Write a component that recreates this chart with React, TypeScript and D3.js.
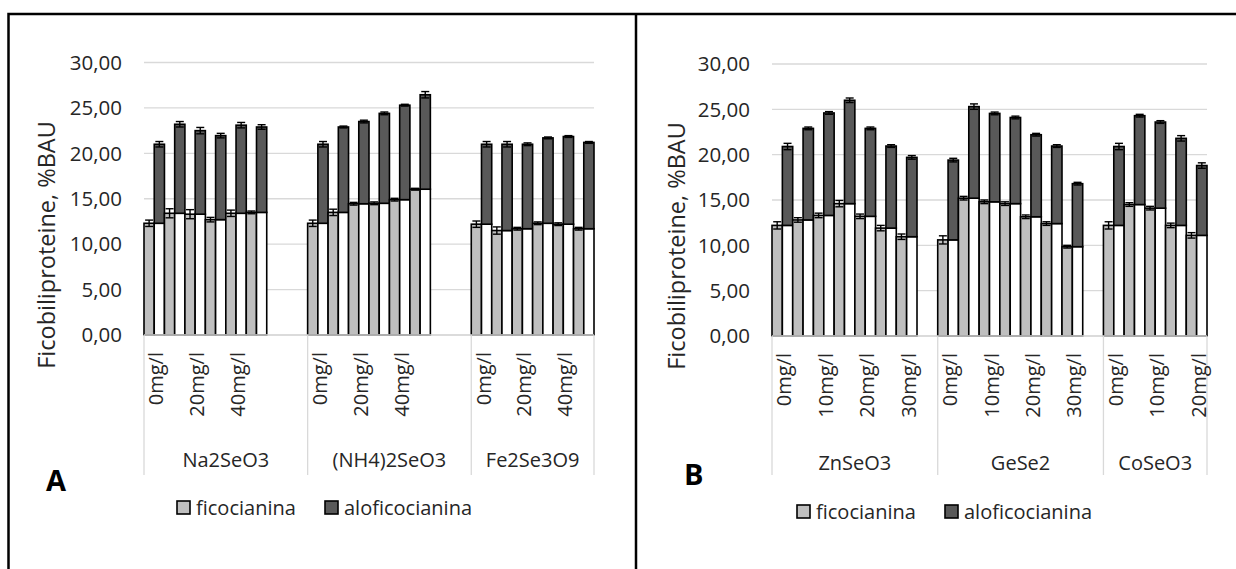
import * as d3 from 'd3';

// panel A
const groupsA = ['Na2SeO3', '(NH4)2SeO3', 'Fe2Se3O9'];
const concA = ['0mg/l', '10mg/l', '20mg/l', '30mg/l', '40mg/l', '50mg/l'];
const ficoA = [
  [12.3, 13.4, 13.3, 12.7, 13.4, 13.5],
  [12.3, 13.5, 14.45, 14.5, 14.9, 16.05],
  [12.2, 11.5, 11.7, 12.3, 12.2, 11.7],
];
const aloA = [
  [8.7, 9.8, 9.2, 9.25, 9.7, 9.4],
  [8.7, 9.4, 9.05, 9.9, 10.4, 10.4],
  [8.8, 9.5, 9.3, 9.4, 9.65, 9.5],
];
const ficoErrA = [
  [0.35, 0.5, 0.5, 0.25, 0.35, 0.15],
  [0.35, 0.35, 0.15, 0.15, 0.15, 0.1],
  [0.35, 0.4, 0.15, 0.15, 0.15, 0.15],
];
const aloErrA = [
  [0.3, 0.3, 0.35, 0.25, 0.3, 0.25],
  [0.3, 0.1, 0.15, 0.15, 0.1, 0.35],
  [0.3, 0.3, 0.15, 0.1, 0.1, 0.1],
];

// panel B
const groupsB = ['ZnSeO3', 'GeSe2', 'CoSeO3'];
const concB = ['0mg/l', '5mg/l', '10mg/l', '15mg/l', '20mg/l', '25mg/l', '30mg/l'];
const ficoB = [
  [12.2, 12.8, 13.3, 14.6, 13.2, 11.9, 10.95],
  [10.6, 15.2, 14.8, 14.6, 13.15, 12.4, 9.85],
  [12.2, 14.5, 14.1, 12.2, 11.1],
];
const aloB = [
  [8.7, 10.1, 11.3, 11.4, 9.7, 9.05, 8.75],
  [8.8, 10.1, 9.75, 9.5, 9.05, 8.55, 6.95],
  [8.7, 9.8, 9.5, 9.6, 7.7],
];
const ficoErrB = [
  [0.4, 0.25, 0.25, 0.35, 0.25, 0.3, 0.3],
  [0.45, 0.2, 0.2, 0.2, 0.2, 0.2, 0.15],
  [0.4, 0.2, 0.2, 0.25, 0.3],
];
const aloErrB = [
  [0.35, 0.15, 0.15, 0.25, 0.15, 0.15, 0.2],
  [0.2, 0.3, 0.15, 0.15, 0.15, 0.15, 0.15],
  [0.35, 0.15, 0.15, 0.3, 0.3],
];

const yTicks = [0, 5, 10, 15, 20, 25, 30];
const seriesNames = ['ficocianina', 'aloficocianina'];

const FONT = "'Open Sans', 'Noto Sans', sans-serif";
const LIGHT = '#bfbfbf';
const DARK = '#595959';
const GRID = '#d9d9d9';

interface PanelProps {
  groups: string[];
  conc: string[];
  fico: number[][];
  alo: number[][];
  ficoErr: number[][];
  aloErr: number[][];
  gapCols: number;
  x0: number;
  x1: number;
  yBottom: number;
  yTop: number;
  tickRight: number;
  titleX: number;
  titleY: number;
  letter: string;
  letterX: number;
  letterY: number;
  groupLabelY: number;
  legendX: number;
  legendY: number;
}

function Panel(p: PanelProps) {
  const cols: string[] = [];
  const groupCols: string[][] = [];
  p.groups.forEach((g, gi) => {
    const gc: string[] = [];
    p.fico[gi].forEach((_, i) => {
      gc.push(`${gi}-${i}-f`, `${gi}-${i}-a`);
    });
    if (gi < p.groups.length - 1) {
      for (let k = 0; k < p.gapCols; k++) gc.push(`${gi}-gap${k}`);
    }
    groupCols.push(gc);
    cols.push(...gc);
  });

  const x = d3.scaleBand<string>().domain(cols).range([p.x0, p.x1]).padding(0);
  const y = d3.scaleLinear().domain([0, 30]).range([p.yBottom, p.yTop]);
  const bw = x.bandwidth();
  const fmt = (v: number) => v.toFixed(2).replace('.', ',');

  const groupStart = (gi: number) => x(groupCols[gi][0])!;
  const groupEnd = (gi: number) => x(groupCols[gi][groupCols[gi].length - 1])! + bw;
  const sepBottom = 475;

  return (
    <g>
      {/* gridlines */}
      {yTicks.map((t) => (
        <line key={t} x1={p.x0} x2={p.x1} y1={y(t)} y2={y(t)} stroke={GRID} strokeWidth={1.3} />
      ))}
      {/* y tick labels */}
      {yTicks.map((t) => (
        <text key={'t' + t} x={p.tickRight} y={y(t)} dy="0.35em" textAnchor="end"
          fontFamily={FONT} fontSize={20.5} fill="#262626">{fmt(t)}</text>
      ))}
      {/* y title */}
      <text transform={`translate(${p.titleX},${p.titleY}) rotate(-90)`}
        textAnchor="middle" dy="0.35em" fontFamily={FONT} fontSize={23.5} fill="#262626">
        Ficobiliproteine, %BAU
      </text>

      {/* bars */}
      {p.groups.map((g, gi) => p.fico[gi].map((f, i) => {
        const a = p.alo[gi][i];
        const xf = x(`${gi}-${i}-f`)!;
        const xa = x(`${gi}-${i}-a`)!;
        const ef = p.ficoErr[gi][i];
        const ea = p.aloErr[gi][i];
        const cf = xf + bw / 2;
        const ca = xa + bw / 2;
        return (
          <g key={`${gi}-${i}`}>
            <rect x={xf} y={y(f)} width={bw} height={y(0) - y(f)} fill={LIGHT} stroke="#000" strokeWidth={1.6} />
            <rect x={xa} y={y(f)} width={bw} height={y(0) - y(f)} fill="#fff" stroke="#000" strokeWidth={1.6} />
            <rect x={xa} y={y(f + a)} width={bw} height={y(f) - y(f + a)} fill={DARK} stroke="#000" strokeWidth={1.6} />
            <g stroke="#000" strokeWidth={1.4}>
              <line x1={cf} x2={cf} y1={y(f - ef)} y2={y(f + ef)} />
              <line x1={cf - 4} x2={cf + 4} y1={y(f - ef)} y2={y(f - ef)} />
              <line x1={cf - 4} x2={cf + 4} y1={y(f + ef)} y2={y(f + ef)} />
              <line x1={ca} x2={ca} y1={y(f + a - ea)} y2={y(f + a + ea)} />
              <line x1={ca - 4} x2={ca + 4} y1={y(f + a - ea)} y2={y(f + a - ea)} />
              <line x1={ca - 4} x2={ca + 4} y1={y(f + a + ea)} y2={y(f + a + ea)} />
            </g>
          </g>
        );
      }))}

      {/* x axis line */}
      <line x1={p.x0} x2={p.x1} y1={y(0)} y2={y(0)} stroke={GRID} strokeWidth={1.3} />
      {/* group separators */}
      {p.groups.map((g, gi) => (
        <line key={'s' + gi} x1={groupStart(gi)} x2={groupStart(gi)} y1={y(0)} y2={sepBottom} stroke={GRID} strokeWidth={1.3} />
      ))}
      <line x1={p.x1} x2={p.x1} y1={y(0)} y2={sepBottom} stroke={GRID} strokeWidth={1.3} />

      {/* concentration labels, every second one */}
      {p.groups.map((g, gi) => p.fico[gi].map((_, i) => {
        if (i % 2 !== 0) return null;
        const cx = x(`${gi}-${i}-a`)!;
        return (
          <text key={`c${gi}-${i}`} transform={`translate(${cx + 2},${y(0) + 17}) rotate(-90)`}
            textAnchor="end" dy="0.35em" fontFamily={FONT} fontSize={20} fill="#262626">
            {p.conc[i]}
          </text>
        );
      }))}
      {/* group labels */}
      {p.groups.map((g, gi) => (
        <text key={'g' + gi} x={(groupStart(gi) + groupEnd(gi)) / 2} y={p.groupLabelY} dy="0.35em"
          textAnchor="middle" fontFamily={FONT} fontSize={20} fill="#262626">{g}</text>
      ))}

      {/* panel letter */}
      <text x={p.letterX} y={p.letterY} fontFamily={FONT} fontWeight="bold" fontSize={29} fill="#000">{p.letter}</text>

      {/* legend */}
      {seriesNames.map((s, si) => {
        const lx = p.legendX + si * 148;
        return (
          <g key={s}>
            <rect x={lx} y={p.legendY - 7} width={13} height={13} fill={si === 0 ? LIGHT : DARK} stroke="#000" strokeWidth={1.6} />
            <text x={lx + 19} y={p.legendY} dy="0.35em" fontFamily={FONT} fontSize={20} fill="#262626">{s}</text>
          </g>
        );
      })}
    </g>
  );
}

export default function App() {
  return (
    <svg width={1236} height={569} style={{ position: 'absolute', left: 0, top: 0, background: '#fff' }}>
      <rect x={0} y={0} width={1236} height={569} fill="#fff" />
      <Panel groups={groupsA} conc={concA} fico={ficoA} alo={aloA} ficoErr={ficoErrA} aloErr={aloErrA}
        gapCols={4} x0={144} x1={594} yBottom={335} yTop={62.5} tickRight={122} titleX={47} titleY={245}
        letter="A" letterX={46} letterY={491} groupLabelY={460} legendX={177} legendY={508} />
      <Panel groups={groupsB} conc={concB} fico={ficoB} alo={aloB} ficoErr={ficoErrB} aloErr={aloErrB}
        gapCols={2} x0={772} x1={1207} yBottom={336} yTop={64} tickRight={750} titleX={677} titleY={246}
        letter="B" letterX={684} letterY={485} groupLabelY={463} legendX={797} legendY={512} />
      {/* frame */}
      <rect x={8.5} y={14} width={1260} height={600} fill="none" stroke="#000" strokeWidth={2.5} />
      <line x1={636} x2={636} y1={14} y2={569} stroke="#000" strokeWidth={2.5} />
    </svg>
  );
}
